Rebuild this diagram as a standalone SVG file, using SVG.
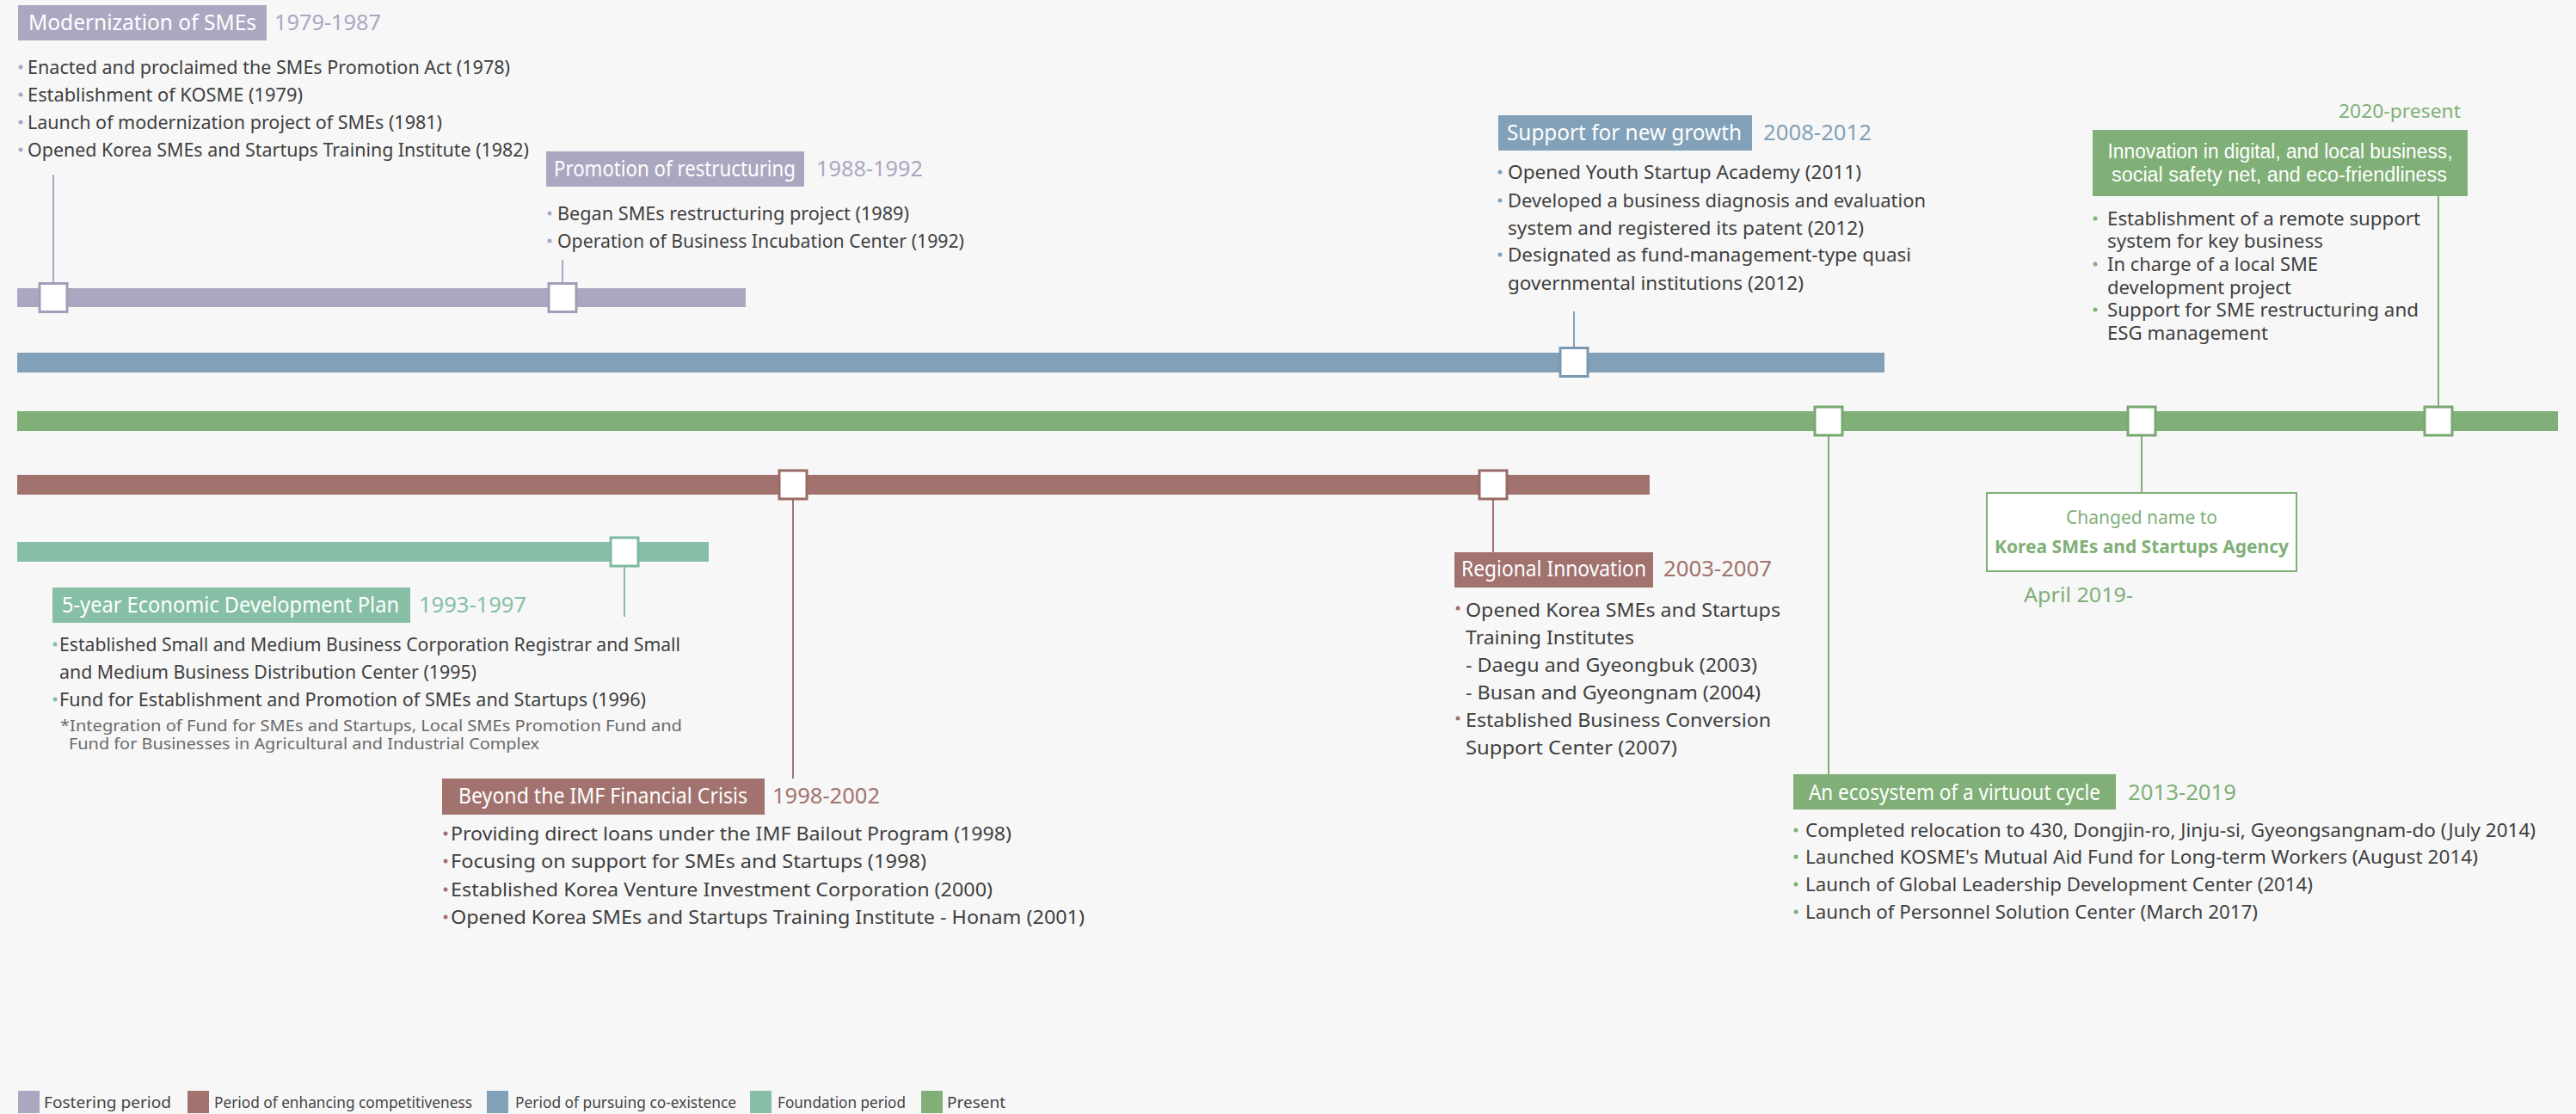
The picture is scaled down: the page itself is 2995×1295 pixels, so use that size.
<svg xmlns="http://www.w3.org/2000/svg" width="2995" height="1295" viewBox="0 0 2995 1295">
<style>
text{font-family:"Noto Sans","Liberation Sans",sans-serif;}
.t{font-size:21px;fill:#3f3f3f;}
.n{font-size:18px;fill:#6a6a6a;}
.h{font-size:25px;fill:#ffffff;}
.y{font-size:25px;}
.lg{font-size:18px;fill:#444444;}
.pu{fill:#ABA7C1;} .bl{fill:#82A1B9;} .gr{fill:#80AF77;} .rd{fill:#A1726E;} .tl{fill:#86BFA6;}
.mk{fill:#ffffff;stroke-width:3;}
.c{stroke-width:2;fill:none;}
.h2{font-family:"Liberation Sans",sans-serif;font-size:23px;fill:#ffffff;}
</style>
<rect x="0" y="0" width="2995" height="1295" fill="#F7F7F7"/>

<g id="bars">
<rect class="pu" x="20" y="335" width="847" height="22"/>
<rect class="bl" x="20" y="410" width="2171" height="23"/>
<rect class="gr" x="20" y="478" width="2954" height="23"/>
<rect class="rd" x="20" y="552" width="1898" height="23"/>
<rect class="tl" x="20" y="630" width="804" height="23"/>
</g>

<g id="connectors">
<line class="c" x1="62" y1="203" x2="62" y2="330" stroke="#ABA7C1"/>
<line class="c" x1="654" y1="302" x2="654" y2="330" stroke="#ABA7C1"/>
<line class="c" x1="1830" y1="362" x2="1830" y2="405" stroke="#82A1B9"/>
<line class="c" x1="2126" y1="506" x2="2126" y2="900" stroke="#80AF77"/>
<line class="c" x1="2490" y1="506" x2="2490" y2="573" stroke="#80AF77"/>
<line class="c" x1="2835" y1="227" x2="2835" y2="473" stroke="#80AF77"/>
<line class="c" x1="922" y1="579" x2="922" y2="905" stroke="#A1726E"/>
<line class="c" x1="1736" y1="579" x2="1736" y2="642" stroke="#A1726E"/>
<line class="c" x1="726" y1="658" x2="726" y2="717" stroke="#86BFA6"/>
</g>

<g id="markers">
<rect class="mk" x="46" y="329.5" width="32" height="33" stroke="#A29EB9"/>
<rect class="mk" x="638" y="329.5" width="32" height="33" stroke="#A29EB9"/>
<rect class="mk" x="1814" y="404.5" width="32" height="33" stroke="#7A99B1"/>
<rect class="mk" x="2110" y="473" width="32" height="33" stroke="#78A870"/>
<rect class="mk" x="2474" y="473" width="32" height="33" stroke="#78A870"/>
<rect class="mk" x="2819" y="473" width="32" height="33" stroke="#78A870"/>
<rect class="mk" x="906" y="547" width="32" height="33" stroke="#9A6A66"/>
<rect class="mk" x="1720" y="547" width="32" height="33" stroke="#9A6A66"/>
<rect class="mk" x="710" y="625" width="32" height="33" stroke="#7FB89F"/>
</g>

<g id="node-modernization">
<rect class="pu" x="21" y="6" width="289" height="41"/>
<text class="h" x="33" y="35" textLength="265" lengthAdjust="spacingAndGlyphs">Modernization of SMEs</text>
<text class="y pu" x="319" y="35" textLength="124" lengthAdjust="spacingAndGlyphs">1979-1987</text>
<circle class="pu" cx="24" cy="78" r="2.5"/>
<text class="t" x="32" y="86" textLength="561" lengthAdjust="spacingAndGlyphs">Enacted and proclaimed the SMEs Promotion Act (1978)</text>
<circle class="pu" cx="24" cy="110" r="2.5"/>
<text class="t" x="32" y="118" textLength="320" lengthAdjust="spacingAndGlyphs">Establishment of KOSME (1979)</text>
<circle class="pu" cx="24" cy="142" r="2.5"/>
<text class="t" x="32" y="150" textLength="482" lengthAdjust="spacingAndGlyphs">Launch of modernization project of SMEs (1981)</text>
<circle class="pu" cx="24" cy="174" r="2.5"/>
<text class="t" x="32" y="182" textLength="583" lengthAdjust="spacingAndGlyphs">Opened Korea SMEs and Startups Training Institute (1982)</text>
</g>

<g id="node-restructuring">
<rect class="pu" x="635" y="176" width="300" height="41"/>
<text class="h" x="644" y="205" textLength="281" lengthAdjust="spacingAndGlyphs">Promotion of restructuring</text>
<text class="y pu" x="949" y="205" textLength="124" lengthAdjust="spacingAndGlyphs">1988-1992</text>
<circle class="pu" cx="639" cy="248" r="2.5"/>
<text class="t" x="648" y="256" textLength="409" lengthAdjust="spacingAndGlyphs">Began SMEs restructuring project (1989)</text>
<circle class="pu" cx="639" cy="280" r="2.5"/>
<text class="t" x="648" y="288" textLength="473" lengthAdjust="spacingAndGlyphs">Operation of Business Incubation Center (1992)</text>
</g>

<g id="node-new-growth">
<rect class="bl" x="1742" y="134" width="295" height="41"/>
<text class="h" x="1752" y="163" textLength="273" lengthAdjust="spacingAndGlyphs">Support for new growth</text>
<text class="y bl" x="2050" y="163" textLength="126" lengthAdjust="spacingAndGlyphs">2008-2012</text>
<circle class="bl" cx="1744" cy="200" r="2.5"/>
<text class="t" x="1753" y="208" textLength="411" lengthAdjust="spacingAndGlyphs">Opened Youth Startup Academy (2011)</text>
<circle class="bl" cx="1744" cy="233" r="2.5"/>
<text class="t" x="1753" y="241" textLength="486" lengthAdjust="spacingAndGlyphs">Developed a business diagnosis and evaluation</text>
<text class="t" x="1753" y="273" textLength="414" lengthAdjust="spacingAndGlyphs">system and registered its patent (2012)</text>
<circle class="bl" cx="1744" cy="296" r="2.5"/>
<text class="t" x="1753" y="304" textLength="469" lengthAdjust="spacingAndGlyphs">Designated as fund-management-type quasi</text>
<text class="t" x="1753" y="337" textLength="344" lengthAdjust="spacingAndGlyphs">governmental institutions (2012)</text>
</g>

<g id="node-present">
<text class="gr" x="2719" y="137" font-size="22" textLength="142" lengthAdjust="spacingAndGlyphs">2020-present</text>
<rect class="gr" x="2433" y="151" width="436" height="77"/>
<text class="h2" x="2651" y="184" text-anchor="middle" textLength="401" lengthAdjust="spacingAndGlyphs">Innovation in digital, and local business,</text>
<text class="h2" x="2650" y="211" text-anchor="middle" textLength="390" lengthAdjust="spacingAndGlyphs">social safety net, and eco-friendliness</text>
<circle class="gr" cx="2436" cy="254" r="2.5"/>
<text class="t" x="2450" y="262" textLength="364" lengthAdjust="spacingAndGlyphs">Establishment of a remote support</text>
<text class="t" x="2450" y="288" textLength="251" lengthAdjust="spacingAndGlyphs">system for key business</text>
<circle class="gr" cx="2436" cy="307" r="2.5"/>
<text class="t" x="2450" y="315" textLength="245" lengthAdjust="spacingAndGlyphs">In charge of a local SME</text>
<text class="t" x="2450" y="342" textLength="214" lengthAdjust="spacingAndGlyphs">development project</text>
<circle class="gr" cx="2436" cy="360" r="2.5"/>
<text class="t" x="2450" y="368" textLength="362" lengthAdjust="spacingAndGlyphs">Support for SME restructuring and</text>
<text class="t" x="2450" y="395" textLength="187" lengthAdjust="spacingAndGlyphs">ESG management</text>
</g>

<g id="node-five-year-plan">
<rect class="tl" x="61" y="683" width="416" height="41"/>
<text class="h" x="72" y="712" textLength="392" lengthAdjust="spacingAndGlyphs">5-year Economic Development Plan</text>
<text class="y tl" x="487" y="712" textLength="125" lengthAdjust="spacingAndGlyphs">1993-1997</text>
<circle class="tl" cx="64" cy="749" r="2.5"/>
<text class="t" x="69" y="757" textLength="722" lengthAdjust="spacingAndGlyphs">Established Small and Medium Business Corporation Registrar and Small</text>
<text class="t" x="69" y="789" textLength="485" lengthAdjust="spacingAndGlyphs">and Medium Business Distribution Center (1995)</text>
<circle class="tl" cx="64" cy="813" r="2.5"/>
<text class="t" x="69" y="821" textLength="682" lengthAdjust="spacingAndGlyphs">Fund for Establishment and Promotion of SMEs and Startups (1996)</text>
<text class="n" x="70" y="850" textLength="723" lengthAdjust="spacingAndGlyphs">*Integration of Fund for SMEs and Startups, Local SMEs Promotion Fund and</text>
<text class="n" x="80" y="871" textLength="547" lengthAdjust="spacingAndGlyphs">Fund for Businesses in Agricultural and Industrial Complex</text>
</g>

<g id="node-imf">
<rect class="rd" x="514" y="905" width="375" height="42"/>
<text class="h" x="533" y="934" textLength="336" lengthAdjust="spacingAndGlyphs">Beyond the IMF Financial Crisis</text>
<text class="y rd" x="898" y="934" textLength="125" lengthAdjust="spacingAndGlyphs">1998-2002</text>
<circle class="rd" cx="518" cy="969" r="2.5"/>
<text class="t" x="524" y="977" textLength="652" lengthAdjust="spacingAndGlyphs">Providing direct loans under the IMF Bailout Program (1998)</text>
<circle class="rd" cx="518" cy="1001" r="2.5"/>
<text class="t" x="524" y="1009" textLength="553" lengthAdjust="spacingAndGlyphs">Focusing on support for SMEs and Startups (1998)</text>
<circle class="rd" cx="518" cy="1034" r="2.5"/>
<text class="t" x="524" y="1042" textLength="630" lengthAdjust="spacingAndGlyphs">Established Korea Venture Investment Corporation (2000)</text>
<circle class="rd" cx="518" cy="1066" r="2.5"/>
<text class="t" x="524" y="1074" textLength="737" lengthAdjust="spacingAndGlyphs">Opened Korea SMEs and Startups Training Institute - Honam (2001)</text>
</g>

<g id="node-regional">
<rect class="rd" x="1691" y="642" width="231" height="41"/>
<text class="h" x="1699" y="670" textLength="215" lengthAdjust="spacingAndGlyphs">Regional Innovation</text>
<text class="y rd" x="1934" y="670" textLength="126" lengthAdjust="spacingAndGlyphs">2003-2007</text>
<circle class="rd" cx="1695" cy="707" r="2.5"/>
<text class="t" x="1704" y="717" textLength="366" lengthAdjust="spacingAndGlyphs">Opened Korea SMEs and Startups</text>
<text class="t" x="1704" y="749" textLength="196" lengthAdjust="spacingAndGlyphs">Training Institutes</text>
<text class="t" x="1704" y="781" textLength="339" lengthAdjust="spacingAndGlyphs">- Daegu and Gyeongbuk (2003)</text>
<text class="t" x="1704" y="813" textLength="343" lengthAdjust="spacingAndGlyphs">- Busan and Gyeongnam (2004)</text>
<circle class="rd" cx="1695" cy="835" r="2.5"/>
<text class="t" x="1704" y="845" textLength="355" lengthAdjust="spacingAndGlyphs">Established Business Conversion</text>
<text class="t" x="1704" y="877" textLength="246" lengthAdjust="spacingAndGlyphs">Support Center (2007)</text>
</g>

<g id="node-ecosystem">
<rect class="gr" x="2085" y="900" width="375" height="41"/>
<text class="h" x="2103" y="930" textLength="339" lengthAdjust="spacingAndGlyphs">An ecosystem of a virtuout cycle</text>
<text class="y gr" x="2474" y="930" textLength="126" lengthAdjust="spacingAndGlyphs">2013-2019</text>
<circle class="gr" cx="2088" cy="965" r="2.5"/>
<text class="t" x="2099" y="973" textLength="849" lengthAdjust="spacingAndGlyphs">Completed relocation to 430, Dongjin-ro, Jinju-si, Gyeongsangnam-do (July 2014)</text>
<circle class="gr" cx="2088" cy="996" r="2.5"/>
<text class="t" x="2099" y="1004" textLength="782" lengthAdjust="spacingAndGlyphs">Launched KOSME's Mutual Aid Fund for Long-term Workers (August 2014)</text>
<circle class="gr" cx="2088" cy="1028" r="2.5"/>
<text class="t" x="2099" y="1036" textLength="590" lengthAdjust="spacingAndGlyphs">Launch of Global Leadership Development Center (2014)</text>
<circle class="gr" cx="2088" cy="1060" r="2.5"/>
<text class="t" x="2099" y="1068" textLength="526" lengthAdjust="spacingAndGlyphs">Launch of Personnel Solution Center (March 2017)</text>
</g>

<g id="node-name-change">
<rect x="2310" y="573" width="360" height="91" fill="#ffffff" stroke="#80AF77" stroke-width="2"/>
<text class="gr" x="2490" y="609" font-size="22" text-anchor="middle" textLength="176" lengthAdjust="spacingAndGlyphs">Changed name to</text>
<text class="gr" x="2490" y="643" font-size="22" font-weight="bold" text-anchor="middle" textLength="342" lengthAdjust="spacingAndGlyphs">Korea SMEs and Startups Agency</text>
<text class="gr" x="2353" y="700" font-size="23" textLength="127" lengthAdjust="spacingAndGlyphs">April 2019-</text>
</g>

<g id="legend">
<rect class="pu" x="21" y="1268" width="25" height="26"/>
<text class="lg" x="51" y="1288" textLength="148" lengthAdjust="spacingAndGlyphs">Fostering period</text>
<rect class="rd" x="218" y="1268" width="25" height="26"/>
<text class="lg" x="249" y="1288" textLength="300" lengthAdjust="spacingAndGlyphs">Period of enhancing competitiveness</text>
<rect class="bl" x="566" y="1268" width="25" height="26"/>
<text class="lg" x="599" y="1288" textLength="257" lengthAdjust="spacingAndGlyphs">Period of pursuing co-existence</text>
<rect class="tl" x="872" y="1268" width="25" height="26"/>
<text class="lg" x="904" y="1288" textLength="149" lengthAdjust="spacingAndGlyphs">Foundation period</text>
<rect class="gr" x="1071" y="1268" width="25" height="26"/>
<text class="lg" x="1101" y="1288" textLength="68" lengthAdjust="spacingAndGlyphs">Present</text>
</g>
</svg>
